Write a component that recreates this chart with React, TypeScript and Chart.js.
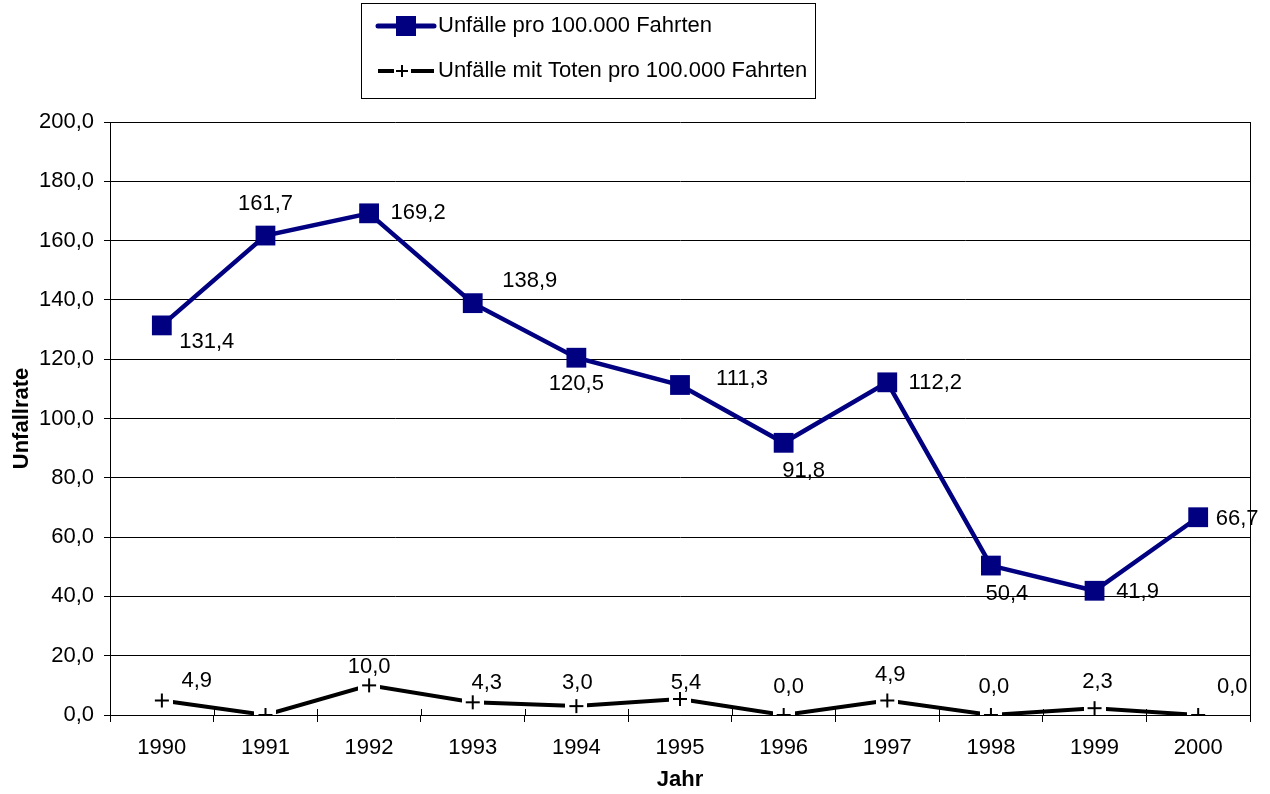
import React, { useEffect, useRef } from "react";
import { Chart, registerables } from "chart.js";

Chart.register(...registerables);

const years = ["1990", "1991", "1992", "1993", "1994", "1995", "1996", "1997", "1998", "1999", "2000"];
const accidentsRate = [131.4, 161.7, 169.2, 138.9, 120.5, 111.3, 91.8, 112.2, 50.4, 41.9, 66.7];
const fatalRate = [4.9, 0.0, 10.0, 4.3, 3.0, 5.4, 0.0, 4.9, 0.0, 2.3, 0.0];
const seriesNames = ["Unfälle pro 100.000 Fahrten", "Unfälle mit Toten pro 100.000 Fahrten"];
const yTickValues = [0, 20, 40, 60, 80, 100, 120, 140, 160, 180, 200];
const axisTitleY = "Unfallrate";
const axisTitleX = "Jahr";

// label placement offsets (style only), [dx, dy] from point, null = no label
const labelOffsets1: ([number, number] | null)[] = [
  [45, 17], [0, -32], [49, 0], [57, -22], [0, 26], [62, -6], [20, 28], [48, 1], [16, 28], [43, 1], [39, 2],
];
const labelOffsets2: ([number, number] | null)[] = [
  [35, -20], null, [0, -18], [14, -19], [1, -23], [6, -16], [5, -28], [3, -26], [3, -28], [3, -26], [34, -28],
];

const FONT = "'Liberation Sans', Arial, sans-serif";
const FS = 22;
const NAVY = "#000080";

const fmt = (v: number) => v.toFixed(1).replace(".", ",");

function makePlusMarker(): HTMLCanvasElement {
  const c = document.createElement("canvas");
  c.width = 22;
  c.height = 24;
  const ctx = c.getContext("2d")!;
  ctx.fillStyle = "#ffffff";
  ctx.fillRect(0, 0, 22, 24);
  ctx.strokeStyle = "#000000";
  ctx.lineWidth = 2;
  ctx.beginPath();
  ctx.moveTo(4, 12);
  ctx.lineTo(18, 12);
  ctx.moveTo(11, 5);
  ctx.lineTo(11, 19);
  ctx.stroke();
  return c;
}

const decorPlugin = {
  id: "decor",
  afterDraw(chart: any) {
    const ctx = chart.ctx as CanvasRenderingContext2D;
    const area = chart.chartArea;
    const xs = chart.scales.x;
    ctx.save();
    // right border
    ctx.strokeStyle = "#000";
    ctx.lineWidth = 1;
    ctx.beginPath();
    ctx.moveTo(Math.round(area.right) + 0.5, area.top);
    ctx.lineTo(Math.round(area.right) + 0.5, area.bottom);
    ctx.stroke();
    // inner part of cross tick marks
    const half = (xs.getPixelForValue(1) - xs.getPixelForValue(0)) / 2;
    ctx.beginPath();
    for (let i = 1; i < years.length; i++) {
      const px = Math.round(xs.getPixelForValue(i) - half) + 0.5;
      ctx.moveTo(px, area.bottom - 6);
      ctx.lineTo(px, area.bottom);
    }
    ctx.stroke();

    // data labels
    ctx.fillStyle = "#000";
    ctx.font = `${FS}px ${FONT}`;
    ctx.textAlign = "center";
    ctx.textBaseline = "middle";
    const offs = [labelOffsets1, labelOffsets2];
    chart.data.datasets.forEach((ds: any, di: number) => {
      const meta = chart.getDatasetMeta(di);
      meta.data.forEach((pt: any, i: number) => {
        const o = offs[di][i];
        if (!o) return;
        ctx.fillText(fmt(ds.data[i]), pt.x + o[0], pt.y + o[1]);
      });
    });

    // legend box
    const lx = 361, ly = 3, lw = 454, lh = 95;
    ctx.fillStyle = "#fff";
    ctx.fillRect(lx, ly, lw, lh);
    ctx.strokeStyle = "#000";
    ctx.lineWidth = 1;
    ctx.strokeRect(lx + 0.5, ly + 0.5, lw, lh);
    // row 1
    const r1 = 26;
    ctx.strokeStyle = NAVY;
    ctx.lineWidth = 5;
    ctx.lineCap = "round";
    ctx.beginPath();
    ctx.moveTo(378, r1);
    ctx.lineTo(434, r1);
    ctx.stroke();
    ctx.fillStyle = NAVY;
    ctx.fillRect(396, r1 - 10, 20, 20);
    // row 2
    const r2 = 71;
    ctx.strokeStyle = "#000";
    ctx.lineWidth = 4;
    ctx.lineCap = "butt";
    ctx.beginPath();
    ctx.moveTo(378, r2);
    ctx.lineTo(394, r2);
    ctx.moveTo(411, r2);
    ctx.lineTo(434, r2);
    ctx.stroke();
    ctx.lineWidth = 2;
    ctx.beginPath();
    ctx.moveTo(396, r2);
    ctx.lineTo(408, r2);
    ctx.moveTo(402, r2 - 6);
    ctx.lineTo(402, r2 + 6);
    ctx.stroke();
    ctx.fillStyle = "#000";
    ctx.textAlign = "left";
    ctx.font = `${FS}px ${FONT}`;
    ctx.fillText(seriesNames[0], 438, r1);
    ctx.fillText(seriesNames[1], 438, r2);
    ctx.restore();
  },
};

export default function App() {
  const ref = useRef<HTMLCanvasElement | null>(null);
  useEffect(() => {
    if (!ref.current) return;
    const plus = makePlusMarker();
    const chart = new Chart(ref.current, {
      type: "line",
      data: {
        labels: years,
        datasets: [
          {
            label: seriesNames[0],
            data: accidentsRate,
            borderColor: NAVY,
            backgroundColor: NAVY,
            borderWidth: 4.5,
            pointStyle: "rect",
            pointRadius: 14,
            pointBorderWidth: 0,
            pointBackgroundColor: NAVY,
            tension: 0,
          },
          {
            label: seriesNames[1],
            data: fatalRate,
            borderColor: "#000",
            backgroundColor: "#000",
            borderWidth: 4,
            pointStyle: plus as any,
            pointRadius: 11,
            tension: 0,
          },
        ],
      },
      options: {
        animation: false,
        responsive: true,
        maintainAspectRatio: false,
        layout: { padding: { left: 0, top: 122, right: 20, bottom: 0 } },
        plugins: {
          legend: { display: false },
          tooltip: { enabled: false },
        },
        scales: {
          x: {
            type: "category",
            offset: true,
            grid: {
              display: true,
              offset: true,
              drawOnChartArea: false,
              drawTicks: true,
              tickLength: 7,
              color: "#000",
              lineWidth: 1,
            },
            border: { display: true, color: "#000", width: 1 },
            ticks: {
              color: "#000",
              font: { family: FONT, size: FS },
              padding: 13,
              maxRotation: 0,
              autoSkip: false,
            },
            title: {
              display: true,
              text: axisTitleX,
              color: "#000",
              font: { family: FONT, size: FS, weight: "bold" },
              padding: { top: 2, bottom: 1 },
            },
            afterFit: (s: any) => {
              s.height = 79;
            },
          },
          y: {
            min: 0,
            max: 200,
            afterBuildTicks: (s: any) => {
              s.ticks = yTickValues.map((v) => ({ value: v }));
            },
            grid: {
              color: "#000",
              lineWidth: 1,
              drawTicks: true,
              tickLength: 6,
            },
            border: { display: true, color: "#000", width: 1 },
            ticks: {
              color: "#000",
              font: { family: FONT, size: FS },
              padding: 10,
              callback: (v: any) => fmt(Number(v)),
            },
            title: {
              display: true,
              text: axisTitleY,
              color: "#000",
              font: { family: FONT, size: FS, weight: "bold" },
              padding: { top: 9, bottom: 4 },
            },
            afterFit: (s: any) => {
              s.width = 110;
            },
          },
        },
      },
      plugins: [decorPlugin],
    });
    return () => chart.destroy();
  }, []);

  return (
    <div style={{ position: "fixed", left: 0, top: 0, width: 1270, height: 794, background: "#fff" }}>
      <canvas ref={ref} />
    </div>
  );
}
